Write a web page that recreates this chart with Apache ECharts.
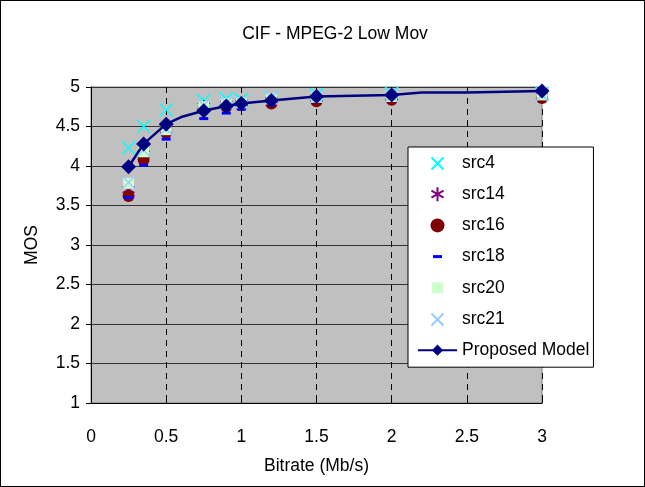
<!DOCTYPE html>
<html>
<head>
<meta charset="utf-8">
<script src="https://cdn.jsdelivr.net/npm/echarts@6/dist/echarts.min.js"></script>
<style>
html,body{margin:0;padding:0;background:#fff;}
#wrap{position:relative;width:645px;height:487px;}
#chart{width:645px;height:487px;}
#frame{position:absolute;left:0;top:0;width:645px;height:487px;box-sizing:border-box;border:1px solid #000;pointer-events:none;}
</style>
</head>
<body>
<div id="wrap"><div id="chart"></div><div id="frame"></div></div>
<script>
// ---- data ----
const titleText = "CIF - MPEG-2 Low Mov";
const xName = "Bitrate (Mb/s)";
const yName = "MOS";
const bitrates = [0.25, 0.35, 0.5, 0.75, 0.9, 1.0, 1.2, 1.5, 2.0, 3.0];
const src4  = [4.23, 4.50, 4.71, 4.83, 4.85, 4.84, 4.87, 4.90, 4.92, 4.92];
const src14 = [3.70, 4.15, 4.45, 4.76, 4.78, 4.80, 4.83, 4.85, 4.87, 4.88];
const src16 = [3.62, 4.08, 4.42, 4.72, 4.75, 4.77, 4.79, 4.82, 4.84, 4.86];
const src18 = [3.60, 4.01, 4.34, 4.60, 4.67, 4.72, 4.78, 4.83, 4.85, 4.87];
const src20 = [3.78, 4.18, 4.46, 4.75, 4.79, 4.80, 4.85, 4.87, 4.88, 4.90];
const src21 = [3.79, 4.20, 4.47, 4.77, 4.80, 4.81, 4.86, 4.88, 4.89, 4.90];
// proposed model curve (markers only at measured bitrates)
const modelX = [0.25, 0.35, 0.5, 0.6, 0.75, 0.9, 1.0, 1.2, 1.5, 1.75, 2.0, 2.2, 2.5, 2.75, 3.0, 3.07];
const modelY = [3.99, 4.28, 4.53, 4.62, 4.70, 4.76, 4.79, 4.83, 4.88, 4.89, 4.90, 4.93, 4.93, 4.94, 4.95, 4.95];
const xTicks = [0, 0.5, 1, 1.5, 2, 2.5, 3];
const yTicks = [1, 1.5, 2, 2.5, 3, 3.5, 4, 4.5, 5];

const pairs = arr => bitrates.map((b, i) => [b, arr[i]]);
const CROSS = 'path://M0,0L10,10M10,0L0,10';
const STAR = 'path://M5,0L5,10M0.67,2.5L9.33,7.5M0.67,7.5L9.33,2.5';
const CROSS_ICON = 'path://M0,0M39,14M13.5,1.5L25.5,13.5M25.5,1.5L13.5,13.5';
const DASH_ICON = 'path://M0,0M39,14M15,5.5L24,5.5L24,8.5L15,8.5Z';
const SQUARE_ICON = 'path://M0,0M39,14M14,1.5L25,1.5L25,12.5L14,12.5Z';
const FONT = 'Liberation Sans, Arial, sans-serif';
const FS = 17.5;

const modelData = modelX.map((x, i) => {
  const marked = bitrates.indexOf(x) >= 0;
  return marked ? { value: [x, modelY[i]] } : { value: [x, modelY[i]], symbol: 'none' };
});

function strokeSeries(name, data, symbol, color, size) {
  return {
    name, type: 'scatter', data, symbol, symbolSize: size,
    itemStyle: { color: 'rgba(0,0,0,0)', borderColor: color, borderWidth: 1.5, opacity: 1 },
    emphasis: { disabled: true }
  };
}

const chart = echarts.init(document.getElementById('chart'), null, { renderer: 'canvas' });
chart.setOption({
  animation: false,
  backgroundColor: '#fff',
  title: {
    text: titleText, left: 330, top: 20, textAlign: 'center',
    textStyle: { fontFamily: FONT, fontSize: FS, fontWeight: 'normal', color: '#000' }
  },
  grid: {
    left: 91, top: 87, right: 103, bottom: 84, show: true,
    backgroundColor: '#C0C0C0', borderColor: '#808080', borderWidth: 1
  },
  legend: {
    orient: 'vertical', left: 408, top: 147,
    padding: [7, 4, 8, 9],
    backgroundColor: '#fff', borderColor: '#000', borderWidth: 1,
    itemWidth: 39, itemHeight: 14, itemGap: 13.2,
    textStyle: { fontFamily: FONT, fontSize: FS, color: '#000', lineHeight: 18 },
    data: [
      { name: 'src4', icon: CROSS_ICON }, { name: 'src14' }, { name: 'src16' },
      { name: 'src18', icon: DASH_ICON }, { name: 'src20', icon: SQUARE_ICON },
      { name: 'src21', icon: CROSS_ICON }, { name: 'Proposed Model' }
    ]
  },
  xAxis: {
    type: 'value', min: 0, max: 3, interval: 0.5,
    name: xName, nameLocation: 'middle', nameGap: 54,
    nameTextStyle: { fontFamily: FONT, fontSize: FS, color: '#000' },
    axisLine: { lineStyle: { color: '#000', width: 1 } },
    axisTick: { inside: true, length: 5, lineStyle: { color: '#000' } },
    axisLabel: { fontFamily: FONT, fontSize: FS, color: '#000', margin: 25 },
    splitLine: { show: true, lineStyle: { color: '#000', type: [6, 5], width: 1 } }
  },
  yAxis: {
    type: 'value', min: 1, max: 5, interval: 0.5,
    name: yName, nameLocation: 'middle', nameGap: 50, nameRotate: 90,
    nameTextStyle: { fontFamily: FONT, fontSize: FS, color: '#000' },
    axisLine: { show: true, lineStyle: { color: '#000', width: 1 } },
    axisTick: { show: true, length: 5, lineStyle: { color: '#000' } },
    axisLabel: { fontFamily: FONT, fontSize: FS, color: '#000', margin: 11 },
    splitLine: { show: true, lineStyle: { color: '#333', width: 1 } }
  },
  series: [
    strokeSeries('src4', pairs(src4), CROSS, '#00FFFF', 13),
    strokeSeries('src14', pairs(src14), STAR, '#800080', 12),
    { name: 'src16', type: 'scatter', data: pairs(src16), symbol: 'circle', symbolSize: 12,
      itemStyle: { color: '#800000', opacity: 1 } },
    { name: 'src18', type: 'scatter', data: pairs(src18), symbol: 'rect', symbolSize: [9, 3],
      itemStyle: { color: '#0000FF', opacity: 1 } },
    { name: 'src20', type: 'scatter', data: pairs(src20), symbol: 'rect', symbolSize: 11,
      itemStyle: { color: '#CCFFCC', opacity: 1 } },
    strokeSeries('src21', pairs(src21), CROSS, '#99CCFF', 13),
    { name: 'Proposed Model', type: 'line', data: modelData, clip: false,
      symbol: 'diamond', symbolSize: 15, showAllSymbol: true,
      lineStyle: { color: '#000080', width: 2.5 },
      itemStyle: { color: '#000080', opacity: 1 } }
  ]
});
</script>
</body>
</html>
